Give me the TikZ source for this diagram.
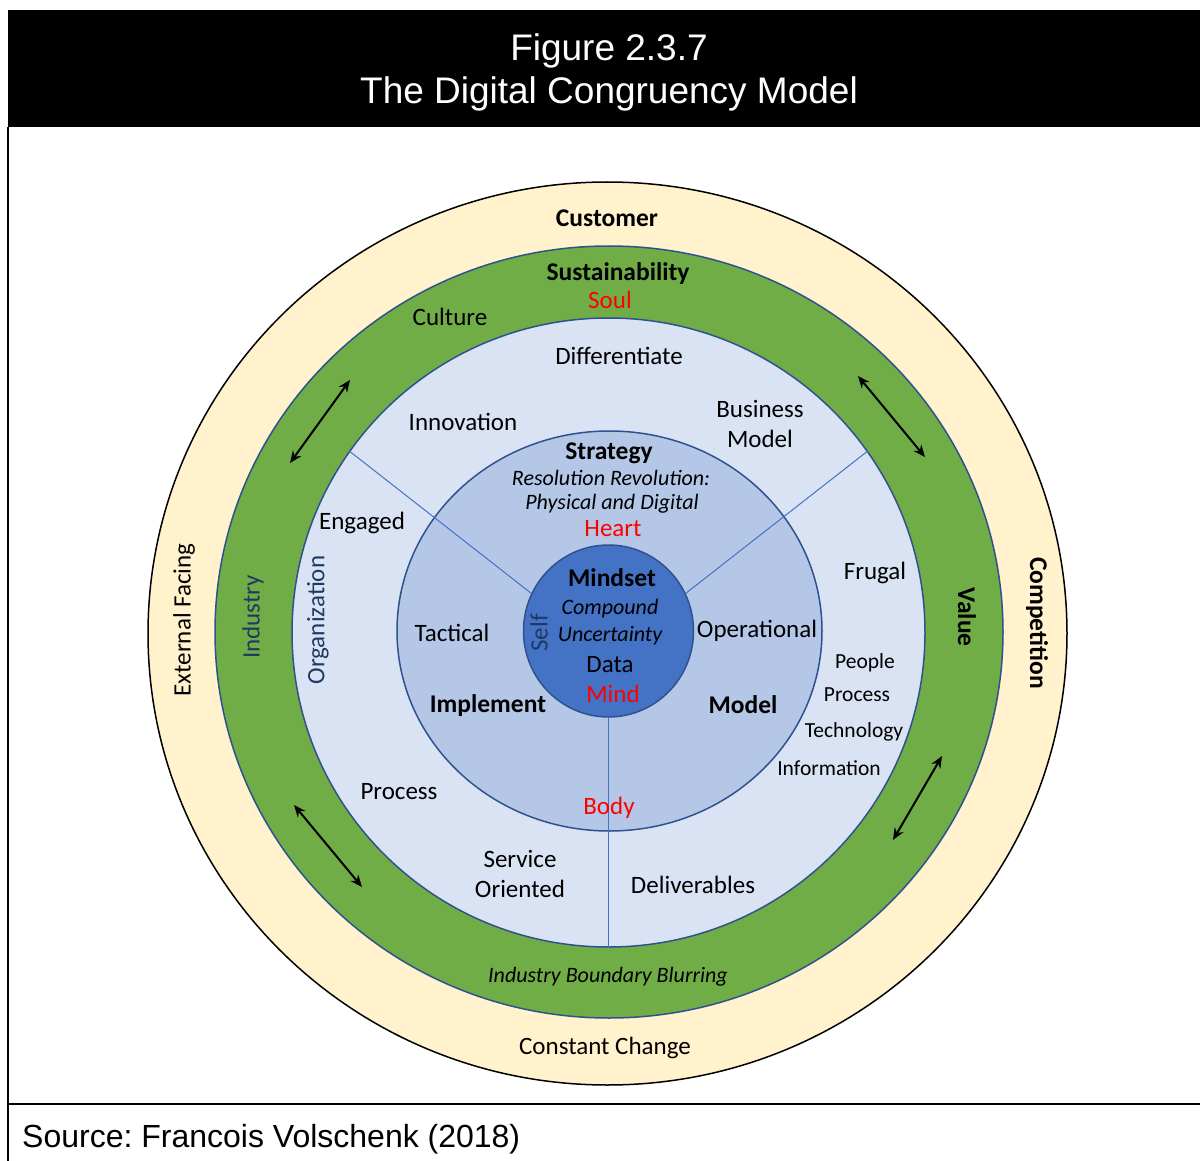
\documentclass[tikz,border=0pt]{standalone}
\usepackage{fontspec}
\setmainfont{Carlito}
\newfontfamily\headfont{Liberation Sans}
\usetikzlibrary{arrows.meta,shapes.geometric}
\definecolor{RimCream}{RGB}{255,242,204}
\definecolor{RingGreen}{RGB}{112,173,71}
\definecolor{PaleBlue}{RGB}{218,227,243}
\definecolor{MidBlue}{RGB}{180,199,231}
\definecolor{CoreBlue}{RGB}{68,114,196}
\definecolor{EdgeBlue}{RGB}{47,82,143}
\definecolor{InkBlue}{RGB}{32,56,100}
\tikzset{
  ring/.style={ellipse,draw=EdgeBlue,line width=1.5pt,inner sep=0pt},
  lbl/.style={inner sep=0pt,align=center,font=\fontsize{25}{30.5}\selectfont},
  hdr/.style={inner sep=0pt,align=center,font=\fontsize{25.5}{30}\selectfont\bfseries},
  sub/.style={inner sep=0pt,align=center,font=\fontsize{22}{26}\selectfont\itshape},
  small/.style={inner sep=0pt,font=\fontsize{21.5}{26}\selectfont},
  tag/.style={lbl,text=red},
  head/.style={inner sep=0pt,text=white,font=\headfont\fontsize{37}{43}\selectfont},
  spoke/.style={draw=CoreBlue,line width=1pt},
  flow/.style={{Stealth[length=12pt,width=10pt]}-{Stealth[length=12pt,width=10pt]},
    line width=2pt,black}
}

\begin{document}
\begin{tikzpicture}[x=1pt,y=-1pt]
\useasboundingbox (0,0) rectangle (1200,1161);

% frame, heading and source line
\fill[black] (8,10) rectangle (1200,127);
\draw[line width=2pt] (8,127) -- (8,1161);
\draw[line width=2pt] (8,1104) -- (1200,1104);
\node[head] (fignum) at (609,51) {Figure 2.3.7};
\node[head] (figname) at (609,94) {The Digital Congruency Model};
\node[head,text=black,font=\headfont\fontsize{32}{38}\selectfont,anchor=west]
  (source) at (22,1139) {Source:\ Francois Volschenk (2018)};

% the five rings, outside in
\node[ring,draw=black,fill=RimCream,minimum width=919,minimum height=903]
  (market) at (607.5,633.5) {};
\node[ring,fill=RingGreen,minimum width=788,minimum height=772]
  (industry) at (609,632) {};
\node[ring,fill=PaleBlue,minimum width=633,minimum height=629]
  (organization) at (608.5,632.5) {};
\node[ring,fill=MidBlue,minimum width=425,minimum height=400]
  (strategy) at (609.5,631) {};
\node[ring,fill=CoreBlue,minimum width=170,minimum height=172]
  (mindset) at (608.5,631) {};

% spokes splitting the three sectors
\draw[spoke] (mindset.154) -- (organization.145);
\draw[spoke] (mindset.26) -- (organization.35);
\draw[spoke] (mindset.south) -- (organization.south);

% double arrows in the green ring
\coordinate (nwlo) at (290,463);
\coordinate (nwhi) at (350,380);
\coordinate (nehi) at (858,376);
\coordinate (nelo) at (925,457);
\coordinate (swhi) at (294,805);
\coordinate (swlo) at (362,887);
\coordinate (sehi) at (942,756);
\coordinate (selo) at (893,840);
\draw[flow] (nwlo) -- (nwhi);
\draw[flow] (nehi) -- (nelo);
\draw[flow] (swhi) -- (swlo);
\draw[flow] (sehi) -- (selo);

% outer ring
\node[hdr] (customer) at (607,218) {Customer};
\node[lbl] (change) at (605,1048) {Constant Change};
\node[lbl,rotate=90] (external) at (184,620) {External Facing};
\node[hdr,rotate=-90] (competition) at (1037,623) {Competition};

% green ring
\node[hdr] (sustain) at (618,274) {Sustainability};
\node[tag] (soul) at (610,300) {Soul};
\node[lbl] (culture) at (450,317) {Culture};
\node[lbl,text=InkBlue,rotate=90] (industrylbl) at (253,617) {Industry};
\node[hdr,rotate=-90] (value) at (967,617) {Value};
\node[sub] (blurring) at (608,977) {Industry Boundary Blurring};

% organization ring
\node[lbl,text=InkBlue,rotate=90] (orglbl) at (318,620) {Organization};
\node[lbl] (differ) at (619,356) {Differentiate};
\node[lbl] (innov) at (463,422) {Innovation};
\node[lbl] (busmodel) at (760,424) {Business\\Model};
\node[lbl] (engaged) at (362,523) {Engaged};
\node[lbl] (frugal) at (875,573) {Frugal};
\node[small] (people) at (865,663) {People};
\node[small] (processr) at (857,695) {Process};
\node[small] (tech) at (854,732) {Technology};
\node[small] (info) at (829,768) {Information};
\node[lbl] (processl) at (399,792) {Process};
\node[lbl] (service) at (520,874) {Service\\Oriented};
\node[lbl] (deliver) at (693,885) {Deliverables};

% strategy ring
\node[hdr] (strathead) at (609,453) {Strategy};
\node[sub] (resol) at (611,478) {Resolution Revolution:};
\node[sub] (physdig) at (612,504) {Physical and Digital};
\node[tag] (heart) at (613,529) {Heart};
\node[lbl] (tactical) at (452,633) {Tactical};
\node[lbl] (operational) at (757,631) {Operational};
\node[hdr] (implement) at (488,706) {Implement};
\node[hdr] (modellbl) at (743,705) {Model};
\node[tag] (body) at (609,808) {Body};

% core
\node[hdr] (mindhead) at (612,578) {Mindset};
\node[sub] (compound) at (610,609) {Compound};
\node[sub] (uncert) at (610,636) {Uncertainty};
\node[lbl] (data) at (610,665) {Data};
\node[tag] (mind) at (613,694) {Mind};
\node[lbl,text=InkBlue,rotate=90] (self) at (539,633) {Self};

\end{tikzpicture}
\end{document}
